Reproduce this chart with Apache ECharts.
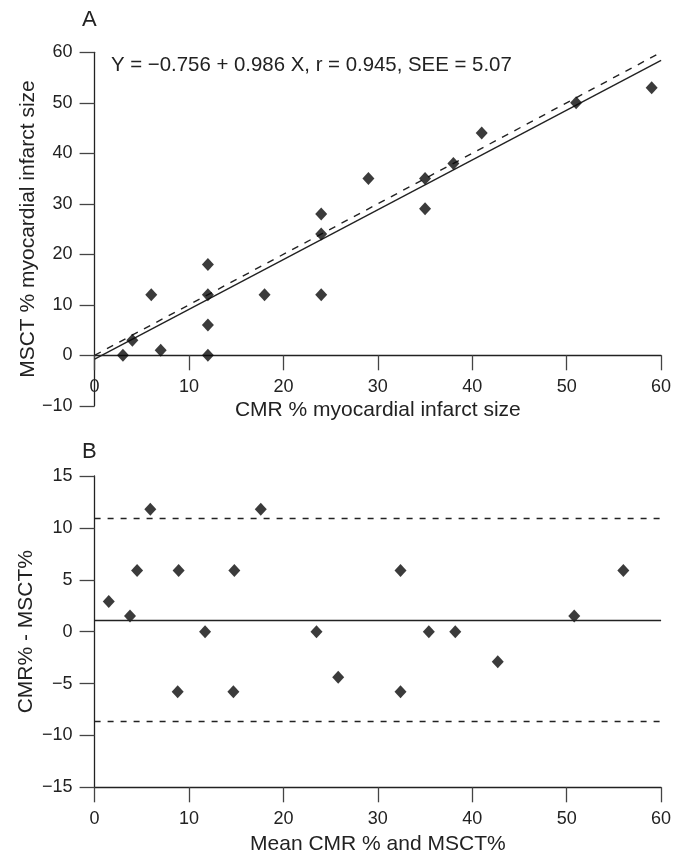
<!DOCTYPE html>
<html>
<head>
<meta charset="utf-8">
<script src="https://cdn.jsdelivr.net/npm/echarts@6/dist/echarts.min.js"></script>
<style>
html,body{margin:0;padding:0;background:#fff;}
#chart{width:674px;height:855px;}
</style>
</head>
<body>
<div id="chart"></div>
<script>
// Panel A: CMR vs MSCT infarct size (%)
const cmrA  = [3, 4, 7, 6, 12, 12, 12, 12, 18, 24, 24, 24, 29, 35, 35, 38, 41, 51, 59];
const msctA = [0, 3, 1, 12, 18, 12, 6, 0, 12, 12, 24, 28, 35, 35, 29, 38, 44, 50, 53];
// Regression and identity lines
const regIntercept = -0.756;
const regSlope = 0.986;
const identityIntercept = 0;
const identitySlope = 1;
const lineX = [0, 60];
const equationText = 'Y = \u22120.756 + 0.986 X, r = 0.945, SEE = 5.07';

// Panel B: Bland-Altman
const meanB = [1.5, 3.75, 4.5, 5.9, 8.9, 8.8, 11.7, 14.8, 14.7, 17.6, 23.5, 25.8, 32.4, 32.4, 35.4, 38.2, 42.7, 50.8, 56];
const diffB = [2.9, 1.5, 5.9, 11.8, 5.9, -5.8, 0, 5.9, -5.8, 11.8, 0, -4.4, 5.9, -5.8, 0, 0, -2.9, 1.5, 5.9];
const biasMean = 1.1;
const agreementLimits = [10.9, -8.6];

// Axis ranges / tick labels
const axisA_x = {min: 0, max: 60, interval: 10};
const axisA_yData = {min: 0, max: 60, interval: 10};
const axisA_y = {min: -10, max: 60, interval: 10};
const axisB_x = {min: 0, max: 60, interval: 10};
const axisB_y = {min: -15, max: 15, interval: 5};

const FONT = '"Liberation Sans", Arial, Helvetica, sans-serif';
const TXT = '#222';
const fmt = v => String(v).replace('-', '\u2212');

const lineData = (a, b) => lineX.map(x => [x, a + b * x]);

const axisLineStyle = {color: '#222', width: 1.3};
const axisCommon = {
  splitLine: {show: false},
  axisLine: {show: true, onZero: false, lineStyle: axisLineStyle},
  axisTick: {show: true, inside: false, length: 15, lineStyle: {color: '#444', width: 1.3}},
  nameTextStyle: {color: TXT, fontSize: 21, fontFamily: FONT},
  nameLocation: 'middle',
  nameMoveOverlap: false
};
const xLabel = {color: TXT, fontSize: 18, fontFamily: FONT, margin: 23, formatter: fmt};
const yLabel = {color: TXT, fontSize: 18, fontFamily: FONT, margin: 22, formatter: fmt};

const chart = echarts.init(document.getElementById('chart'), null, {renderer: 'canvas'});
chart.setOption({
  animation: false,
  backgroundColor: '#fff',
  grid: [
    {left: 94.6, top: 52.3, width: 566.5, height: 303, outerBoundsMode: 'none'},
    {left: 94.6, top: 52.3, width: 566.5, height: 353.5, outerBoundsMode: 'none'},
    {left: 94.6, top: 476, width: 566.5, height: 311.3, outerBoundsMode: 'none'}
  ],
  xAxis: [
    Object.assign({}, axisCommon, {type: 'value', gridIndex: 0, min: axisA_x.min, max: axisA_x.max, interval: axisA_x.interval,
      name: 'CMR % myocardial infarct size', nameGap: 44, axisLabel: xLabel}),
    {type: 'value', gridIndex: 1, min: axisA_x.min, max: axisA_x.max, interval: axisA_x.interval, show: false},
    Object.assign({}, axisCommon, {type: 'value', gridIndex: 2, min: axisB_x.min, max: axisB_x.max, interval: axisB_x.interval,
      name: 'Mean CMR % and MSCT%', nameGap: 46, axisLabel: xLabel})
  ],
  yAxis: [
    {type: 'value', gridIndex: 0, min: axisA_yData.min, max: axisA_yData.max, interval: axisA_yData.interval, show: false},
    Object.assign({}, axisCommon, {type: 'value', gridIndex: 1, min: axisA_y.min, max: axisA_y.max, interval: axisA_y.interval,
      name: 'MSCT % myocardial infarct size', nameGap: 56, axisLabel: yLabel}),
    Object.assign({}, axisCommon, {type: 'value', gridIndex: 2, min: axisB_y.min, max: axisB_y.max, interval: axisB_y.interval,
      name: 'CMR% - MSCT%', nameGap: 58, axisLabel: yLabel})
  ],
  series: [
    {type: 'line', xAxisIndex: 0, yAxisIndex: 0, data: lineData(identityIntercept, identitySlope), symbol: 'none', clip: false,
      lineStyle: {color: '#222', width: 1.4, type: [7, 7]}, silent: true, z: 2},
    {type: 'line', xAxisIndex: 0, yAxisIndex: 0, data: lineData(regIntercept, regSlope), symbol: 'none', clip: false,
      lineStyle: {color: '#222', width: 1.4, type: 'solid'}, silent: true, z: 2},
    {type: 'scatter', xAxisIndex: 0, yAxisIndex: 0, data: cmrA.map((x, i) => [x, msctA[i]]), clip: false,
      symbol: 'diamond', symbolSize: [12, 13], itemStyle: {color: '#0a0a0a'}, z: 3},
    {type: 'scatter', xAxisIndex: 2, yAxisIndex: 2, data: meanB.map((x, i) => [x, diffB[i]]),
      symbol: 'diamond', symbolSize: [12, 13], itemStyle: {color: '#0a0a0a'}, z: 3,
      markLine: {
        silent: true, symbol: ['none', 'none'], label: {show: false}, animation: false,
        data: [
          {yAxis: biasMean, lineStyle: {color: '#222', width: 1.4, type: 'solid'}},
          {yAxis: agreementLimits[0], lineStyle: {color: '#222', width: 1.4, type: [6, 7]}},
          {yAxis: agreementLimits[1], lineStyle: {color: '#222', width: 1.4, type: [6, 7]}}
        ]
      }}
  ],
  graphic: [
    {type: 'text', left: 82, top: 9, style: {text: 'A', fontSize: 22, fontFamily: FONT, fill: TXT}},
    {type: 'text', left: 82, top: 441, style: {text: 'B', fontSize: 22, fontFamily: FONT, fill: TXT}},
    {type: 'text', left: 111, top: 55, style: {text: equationText, fontSize: 20.4, fontFamily: FONT, fill: TXT}}
  ]
});
</script>
</body>
</html>
